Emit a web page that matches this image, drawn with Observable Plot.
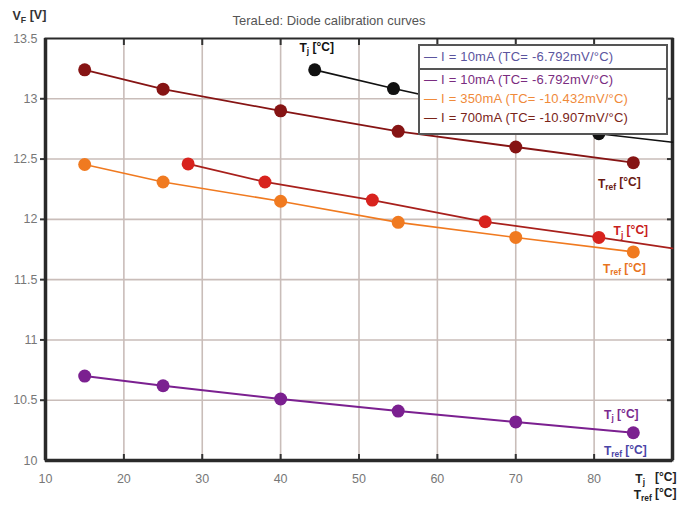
<!DOCTYPE html>
<html>
<head>
<meta charset="utf-8">
<script src="https://cdn.jsdelivr.net/npm/d3@7"></script>
<script src="https://cdn.jsdelivr.net/npm/@observablehq/plot@0.6"></script>
<style>
  body { margin: 0; background: #fff; font-family: "Liberation Sans", Arial, sans-serif; }
  #wrap { position: relative; width: 677px; height: 506px; }
  #legend { position: absolute; left: 418px; top: 44px; width: 246px; border: 2px solid #555; background: #fff;
            font-size: 13px; letter-spacing: 0.2px; padding-bottom: 6px;
            font-family: "Liberation Sans", Arial, sans-serif; }
  #legend .row { height: 19px; line-height: 19px; padding-left: 4px; white-space: nowrap; }
  #legend .first { border-bottom: 2px solid #555; height: 22px; line-height: 22px; }
</style>
</head>
<body>
<div id="wrap"></div>
<script>
// ---- data ----
const xTicks = [10, 20, 30, 40, 50, 60, 70, 80];
const yTicks = [10, 10.5, 11, 11.5, 12, 12.5, 13, 13.5];
const tRef = [15, 25, 40, 55, 70, 85];
const v10 = [10.70, 10.62, 10.51, 10.41, 10.32, 10.23];
const v350 = [12.455, 12.31, 12.15, 11.975, 11.85, 11.73];
const v700 = [13.24, 13.08, 12.90, 12.73, 12.60, 12.47];
const tj350 = [28.2, 38.0, 51.7, 66.1, 80.6];
const vj350 = [12.46, 12.31, 12.16, 11.98, 11.85];
const tj700 = [44.35, 54.4, 80.6];
const vj700 = [13.24, 13.085, 12.71];
// line extension to the right border
const tjEnd = 90;
const vj350End = 11.76;
const vj700End = 12.64;
const legendLabels = [
  "I = 10mA (TC= -6.792mV/°C)",
  "I = 10mA (TC= -6.792mV/°C)",
  "I = 350mA (TC= -10.432mV/°C)",
  "I = 700mA (TC= -10.907mV/°C)"
];
const legendColors = ["#5b559e", "#7a2c80", "#f08a3a", "#7a2418"];

const C = { purple: "#7b2090", orange: "#f07a20", red: "#d8231e", dark: "#861414", black: "#111" };

const pts = (xs, ys) => xs.map((x, i) => ({ x, y: ys[i] }));
const s10 = pts(tRef, v10);
const s350 = pts(tRef, v350);
const s700 = pts(tRef, v700);
const sj350 = pts(tj350, vj350);
const sj700 = pts(tj700, vj700);
const lj350 = sj350.concat([{ x: tjEnd, y: vj350End }]);
const lj700 = sj700.concat([{ x: tjEnd, y: vj700End }]);

const lab = { fontFamily: "Liberation Sans, Arial, sans-serif", fontWeight: "bold", fontSize: 12 };
const last = a => [a[a.length - 1]];

const plot = Plot.plot({
  width: 677, height: 506,
  marginLeft: 45, marginRight: 5, marginTop: 38, marginBottom: 46,
  style: { fontFamily: "Liberation Sans, Arial, sans-serif", background: "#fff" },
  x: { domain: [10, 90] },
  y: { domain: [10, 13.5] },
  marks: [
    Plot.gridX(xTicks.slice(1), { stroke: "#c9bdb9", strokeOpacity: 1, strokeWidth: 1.6 }),
    Plot.gridY(yTicks.slice(1, -1), { stroke: "#c9bdb9", strokeOpacity: 1, strokeWidth: 1.6 }),
    Plot.axisX({ ticks: xTicks, tickSize: 0, tickPadding: 14, fill: "#777", fontSize: 12.5, label: null }),
    Plot.axisY({ ticks: yTicks, tickSize: 0, tickPadding: 8, fill: "#777", fontSize: 12.5, label: null,
      tickFormat: d => (d % 1 === 0 ? String(d) : d.toFixed(1)) }),
    Plot.axisX({ ticks: xTicks.slice(1), anchor: "top", tickSize: -6, tickFormat: () => "", label: null, stroke: "#333", strokeWidth: 2 }),
    Plot.axisX({ ticks: xTicks.slice(1), anchor: "bottom", tickSize: -6, tickFormat: () => "", label: null, stroke: "#333", strokeWidth: 2 }),
    Plot.axisY({ ticks: yTicks.slice(1, -1), anchor: "right", tickSize: -6, tickFormat: () => "", label: null, stroke: "#333", strokeWidth: 2 }),
    Plot.axisY({ ticks: yTicks.slice(1, -1), anchor: "left", tickSize: 5, tickFormat: () => "", label: null, stroke: "#333", strokeWidth: 2 }),
    Plot.frame({ stroke: "#2a2a2a", strokeWidth: 2 }),
    Plot.ruleX([10], { stroke: "#2a2a2a", strokeWidth: 3.5 }),
    Plot.ruleY([10], { stroke: "#2a2a2a", strokeWidth: 3.5 }),
    Plot.ruleX([90], { stroke: "#2a2a2a", strokeWidth: 3.5 }),
    // lines
    Plot.line(s10, { x: "x", y: "y", stroke: C.purple, strokeWidth: 2 }),
    Plot.line(s350, { x: "x", y: "y", stroke: C.orange, strokeWidth: 1.6 }),
    Plot.line(s700, { x: "x", y: "y", stroke: C.dark, strokeWidth: 1.8 }),
    Plot.line(lj350, { x: "x", y: "y", stroke: "#a8201c", strokeWidth: 1.8 }),
    Plot.line(lj700, { x: "x", y: "y", stroke: C.black, strokeWidth: 1.6 }),
    // dots
    Plot.dot(s10, { x: "x", y: "y", r: 6.5, fill: C.purple }),
    Plot.dot(s350, { x: "x", y: "y", r: 6.5, fill: C.orange }),
    Plot.dot(s700, { x: "x", y: "y", r: 6.5, fill: C.dark }),
    Plot.dot(sj350, { x: "x", y: "y", r: 6.5, fill: C.red }),
    Plot.dot(sj700, { x: "x", y: "y", r: 6.5, fill: C.black }),
    // series labels
    Plot.text(sj700.slice(0, 1), { x: "x", y: "y", text: () => "T_j_ [°C]", dx: 2, dy: -22, fill: C.black, ...lab }),
    Plot.text(last(s700), { x: "x", y: "y", text: () => "T_ref_ [°C]", dx: -14, dy: 21, fill: "#6a1a12", ...lab }),
    Plot.text(last(sj350), { x: "x", y: "y", text: () => "T_j_ [°C]", dx: 32, dy: -6, fill: "#c8201c", ...lab }),
    Plot.text(last(s350), { x: "x", y: "y", text: () => "T_ref_ [°C]", dx: -9, dy: 17, fill: "#e8741e", ...lab }),
    Plot.text(last(s10), { x: "x", y: "y", text: () => "T_j_ [°C]", dx: -12, dy: -18, fill: "#7a2a8e", ...lab }),
    Plot.text(last(s10), { x: "x", y: "y", text: () => "T_ref_ [°C]", dx: -8, dy: 18, fill: "#4b44a6", ...lab }),
    // axis labels
    Plot.text([0], { frameAnchor: "bottom-right", text: () => "T_j_   [°C]", textAnchor: "end", dx: 4, dy: 22, fill: "#222", ...lab }),
    Plot.text([0], { frameAnchor: "bottom-right", text: () => "T_ref_ [°C]", textAnchor: "end", dx: 4, dy: 38, fill: "#222", ...lab }),
    Plot.text([0], { frameAnchor: "top-left", text: () => "V_F_ [V]", textAnchor: "start", dx: -33, dy: -27, fill: "#333", ...lab, fontSize: 12.5 }),
    Plot.text([0], { frameAnchor: "top", text: () => "TeraLed: Diode calibration curves", dx: -30, dy: -23,
      fill: "#555", fontSize: 13, fontFamily: "Liberation Sans, Arial, sans-serif" })
  ]
});

// subscripts: "base_sub_rest"
d3.select(plot).selectAll("text").each(function () {
  const el = d3.select(this);
  const target = this.querySelector("tspan") ? d3.select(this.querySelector("tspan")) : el;
  const t = target.text();
  const m = t.match(/^([^_]*)_([^_]*)_(.*)$/);
  if (!m) return;
  target.text(null);
  target.append("tspan").text(m[1]);
  target.append("tspan").attr("font-size", "70%").attr("dy", "0.3em").text(m[2]);
  target.append("tspan").attr("dy", "-0.3em").text(m[3]);
});

const wrap = document.getElementById("wrap");
wrap.appendChild(plot);
const lg = document.createElement("div");
lg.id = "legend";
legendLabels.forEach((s, i) => {
  const r = document.createElement("div");
  r.className = "row" + (i === 0 ? " first" : "");
  r.style.color = legendColors[i];
  r.textContent = "— " + s;
  lg.appendChild(r);
});
wrap.appendChild(lg);
</script>
</body>
</html>
